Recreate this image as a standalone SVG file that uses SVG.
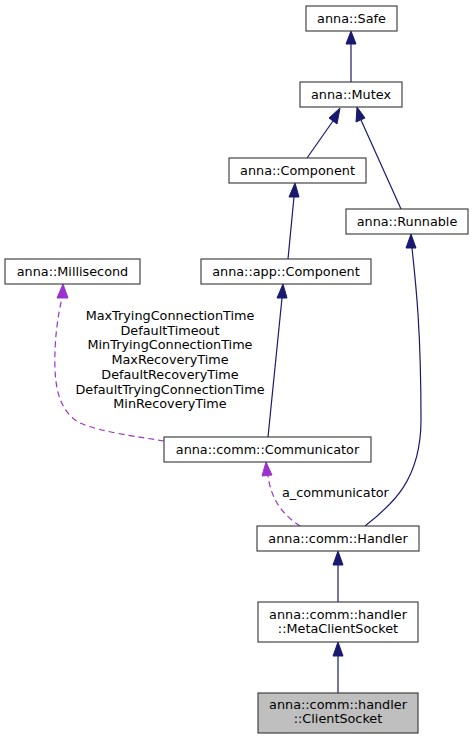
<svg xmlns="http://www.w3.org/2000/svg" width="474" height="739" viewBox="0 0 474 739">
<defs>
<style>
.box{fill:#ffffff;stroke:#333333;stroke-width:1.1}
.cur{fill:#bfbfbf;stroke:#333333;stroke-width:1.1}
text{font-family:"DejaVu Sans",sans-serif;font-size:12.8px;fill:#000}
.c{text-anchor:middle}
.inh{fill:none;stroke:#191970;stroke-width:1.2}
.use{fill:none;stroke:#9a32cd;stroke-width:1.2;stroke-dasharray:6,4}
.ah{fill:#191970;stroke:#191970}
.ahu{fill:#9a32cd;stroke:#9a32cd}
</style>
</defs>
<rect width="474" height="739" fill="#ffffff"/>
<g id="connectors">
<path class="inh" d="M351,82 L351,44"/>
<polygon class="ah" points="351,31 346,44 356,44"/>
<path class="inh" d="M307,158 L333,121"/>
<polygon class="ah" points="340,108 329,118 337,124"/>
<path class="inh" d="M401,209 L361,120"/>
<polygon class="ah" points="357,107 356,122 365,118"/>
<path class="inh" d="M288,259 L294,197"/>
<polygon class="ah" points="295,183 289,197 299,197"/>
<path class="inh" d="M365,526 C392,505 421,480 421,420 C421,330 416,285 412,248"/>
<polygon class="ah" points="411,234 406,248 416,248"/>
<path class="inh" d="M268,437 L282,298"/>
<polygon class="ah" points="283,284 277,298 287,298"/>
<path class="use" d="M164,441 C140,437 100,432 80,423 C60,412 56,390 55,370 C54,340 58,315 62,298"/>
<polygon class="ahu" points="63,284 57,298 68,298"/>
<path class="use" d="M300,526 C288,518 272,505 268,476"/>
<polygon class="ahu" points="266,462 262,476 272,475"/>
<path class="inh" d="M338,602 L338,565"/>
<polygon class="ah" points="338,551 333,565 343,565"/>
<path class="inh" d="M338,693 L338,656"/>
<polygon class="ah" points="338,642 333,656 343,656"/>
<text x="170" y="320" class="c">MaxTryingConnectionTime</text>
<text x="170" y="334.7" class="c">DefaultTimeout</text>
<text x="170" y="349.4" class="c">MinTryingConnectionTime</text>
<text x="170" y="364.1" class="c">MaxRecoveryTime</text>
<text x="170" y="378.8" class="c">DefaultRecoveryTime</text>
<text x="170" y="393.5" class="c">DefaultTryingConnectionTime</text>
<text x="170" y="408.2" class="c">MinRecoveryTime</text>
<text x="282" y="497">a_communicator</text>
</g>
<g id="safe"><rect class="box" x="306" y="6" width="91" height="25"/><text x="351.5" y="23" class="c">anna::Safe</text></g>
<g id="mutex"><rect class="box" x="300" y="82" width="102" height="25"/><text x="351" y="99" class="c">anna::Mutex</text></g>
<g id="component"><rect class="box" x="229" y="158" width="137" height="25"/><text x="297.5" y="175" class="c">anna::Component</text></g>
<g id="runnable"><rect class="box" x="346" y="209" width="122" height="25"/><text x="407" y="226" class="c">anna::Runnable</text></g>
<g id="millisecond"><rect class="box" x="5" y="259" width="135" height="25"/><text x="72.5" y="276" class="c">anna::Millisecond</text></g>
<g id="appcomponent"><rect class="box" x="201" y="259" width="170" height="25"/><text x="286" y="276" class="c">anna::app::Component</text></g>
<g id="communicator"><rect class="box" x="164" y="437" width="207" height="25"/><text x="267.5" y="454" class="c">anna::comm::Communicator</text></g>
<g id="handler"><rect class="box" x="257" y="526" width="162" height="25"/><text x="338" y="543" class="c">anna::comm::Handler</text></g>
<g id="metaclientsocket"><rect class="box" x="258" y="602" width="160" height="40"/><text x="338" y="619" class="c">anna::comm::handler</text><text x="338" y="633" class="c">::MetaClientSocket</text></g>
<g id="clientsocket"><rect class="cur" x="258" y="693" width="160" height="40"/><text x="338" y="709" class="c">anna::comm::handler</text><text x="338" y="723" class="c">::ClientSocket</text></g>
</svg>
